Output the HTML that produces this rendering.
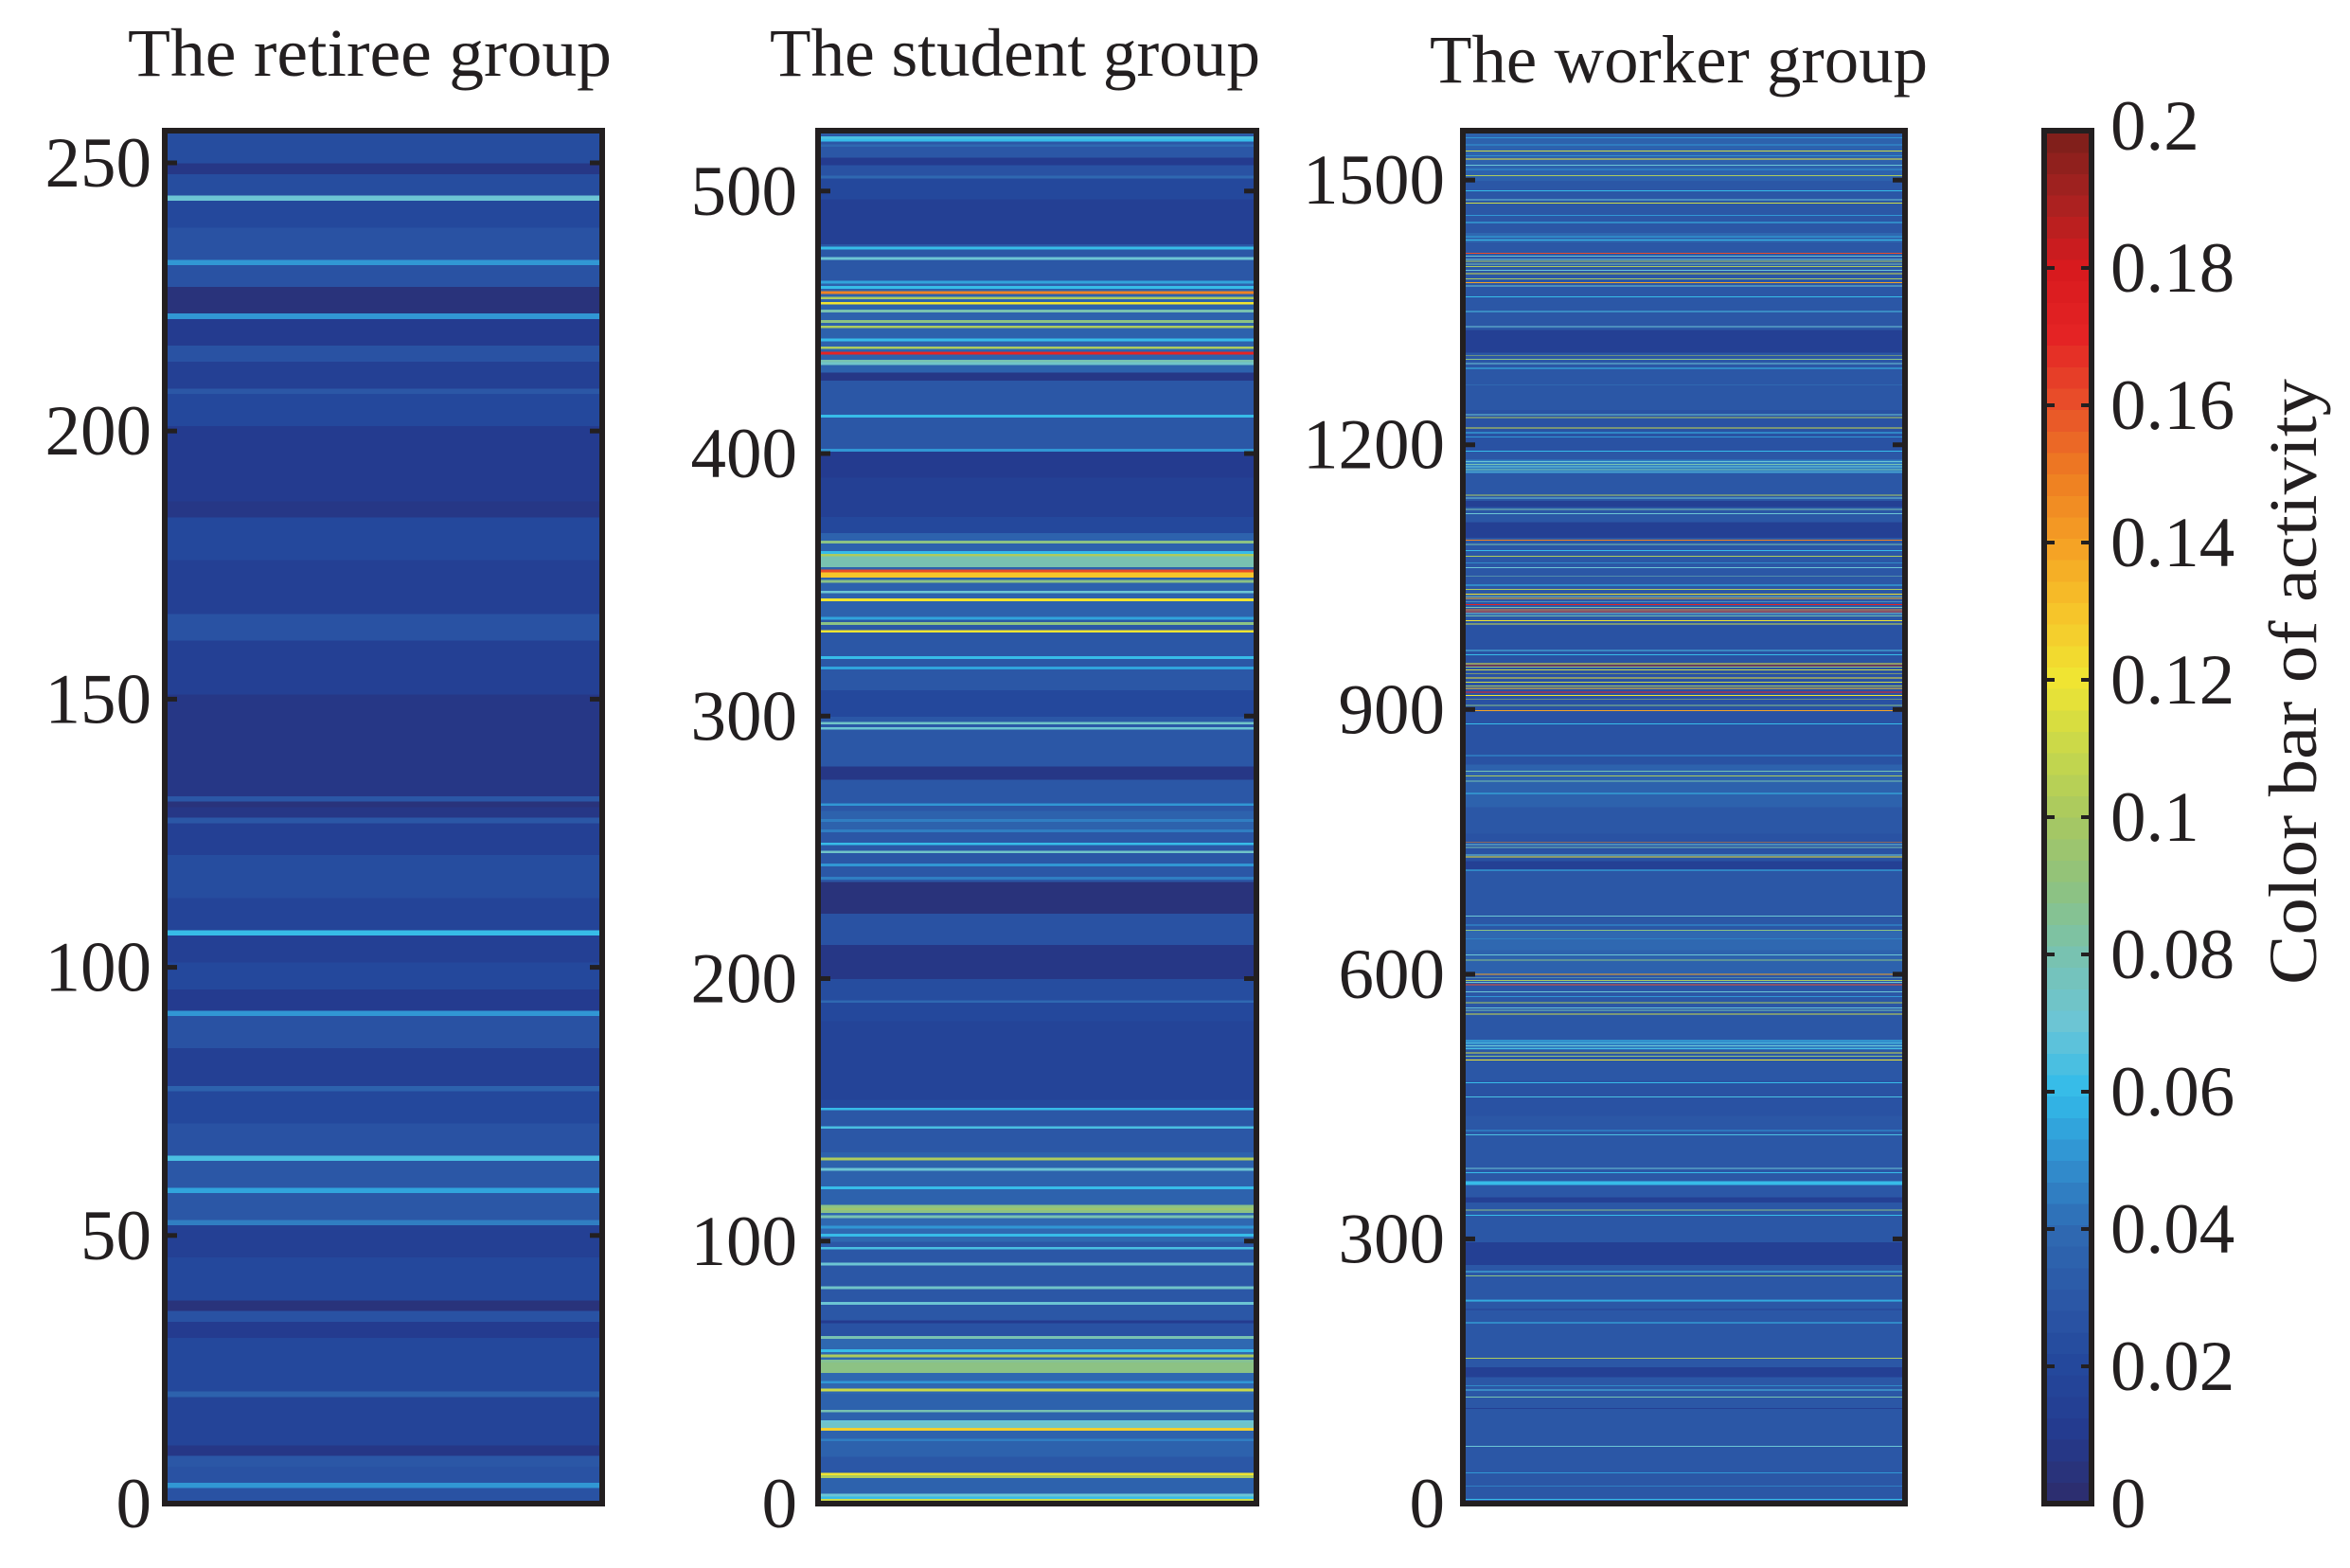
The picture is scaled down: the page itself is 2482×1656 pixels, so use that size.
<!DOCTYPE html>
<html><head><meta charset="utf-8"><style>
html,body{margin:0;padding:0;background:#fff;}
svg{display:block;}
text{font-family:"Liberation Serif","DejaVu Serif",serif;fill:#231f20;}
</style></head><body>
<svg id="chart" width="2482" height="1656" viewBox="0 0 2482 1656" xmlns="http://www.w3.org/2000/svg">
<g id="layer"></g>
</svg>
<script>
// ---- DATA ----
// Retiree group: run-length [value, rowCount] from row 0 upward (256 rows)
const retireeRuns = [[0.025,3],[0.05,1],[0.025,3],[0.03,2],[0.008,2],[0.018,9],[0.035,1],[0.02,10],[0.01,3],[0.025,2],[0.005,2],[0.02,8],[0.015,6],[0.045,1],[0.03,5],[0.055,1],[0.03,5],[0.065,1],[0.028,6],[0.02,6],[0.035,1],[0.015,7],[0.028,6],[0.05,1],[0.012,4],[0.02,5],[0.015,5],[0.062,1],[0.018,6],[0.022,8],[0.015,6],[0.03,1],[0.008,2],[0.005,1],[0.03,1],[0.008,19],[0.015,10],[0.025,5],[0.015,10],[0.02,8],[0.008,3],[0.01,14],[0.02,6],[0.03,1],[0.015,5],[0.025,3],[0.012,5],[0.05,1],[0.005,5],[0.025,4],[0.05,1],[0.025,6],[0.02,5],[0.07,1],[0.022,4],[0.008,2],[0.022,6]];
const retireeRows = 256;
const retireeTicks = [0,50,100,150,200,250];

// Student group: background segments [startRow, value], then single-row stripes [row, value]
const studentRows = 523;
const studentSegments = [[0,0.035],[12,0.03],[18,0.035],[36,0.035],[42,0.04],[64,0.025],[69,0.01],[70,0.03],[100,0.04],[114,0.035],[134,0.03],[151,0.02],[154,0.016],[184,0.02],[192,0.022],[200,0.008],[213,0.025],[225,0.005],[237,0.03],[257,0.035],[264,0.03],[276,0.008],[281,0.03],[300,0.02],[310,0.03],[338,0.035],[370,0.02],[376,0.013],[391,0.01],[402,0.03],[415,0.03],[428,0.008],[431,0.035],[466,0.03],[480,0.015],[497,0.02],[506,0.025],[510,0.01],[513,0.03]];
const studentStripes = [[1,0.11],[2,0.06],[3,0.07],[10,0.1],[11,0.12],[24,0.045],[28,0.125],[29,0.075],[30,0.075],[31,0.07],[35,0.08],[43,0.11],[46,0.05],[48,0.04],[50,0.09],[51,0.09],[52,0.09],[53,0.09],[54,0.085],[56,0.1],[58,0.06],[63,0.08],[76,0.07],[82,0.075],[91,0.07],[97,0.065],[102,0.06],[105,0.05],[109,0.08],[111,0.09],[112,0.095],[113,0.09],[120,0.06],[127,0.07],[131,0.1],[143,0.065],[150,0.06],[191,0.04],[238,0.045],[243,0.05],[248,0.075],[251,0.06],[256,0.045],[260,0.045],[266,0.05],[295,0.07],[297,0.075],[318,0.055],[322,0.06],[332,0.12],[335,0.09],[337,0.055],[344,0.12],[347,0.07],[351,0.09],[353,0.13],[354,0.13],[355,0.16],[357,0.08],[358,0.08],[359,0.08],[360,0.08],[361,0.1],[362,0.06],[366,0.09],[401,0.05],[414,0.06],[434,0.075],[435,0.08],[438,0.17],[440,0.1],[443,0.06],[448,0.1],[450,0.09],[454,0.08],[457,0.12],[459,0.1],[461,0.15],[463,0.06],[465,0.055],[474,0.07],[478,0.06],[505,0.04],[517,0.04],[519,0.06],[520,0.065],[522,0.04]];
const studentTicks = [0,100,200,300,400,500];

// Worker group
const workerRows = 1556;
const workerSegments = [[0,0.03],[108,0.015],[109,0.03],[144,0.015],[155,0.03],[220,0.015],[221,0.03],[271,0.015],[297,0.03],[342,0.015],[348,0.03],[440,0.025],[480,0.03],[515,0.045],[526,0.03],[600,0.035],[628,0.04],[650,0.03],[718,0.015],[729,0.025],[760,0.03],[790,0.035],[838,0.025],[970,0.025],[996,0.03],[1095,0.015],[1113,0.03],[1130,0.015],[1137,0.03],[1168,0.045],[1184,0.03],[1194,0.025],[1240,0.03],[1305,0.015],[1331,0.03],[1430,0.04],[1441,0.03],[1500,0.035]];
const workerStripes = [[5,0.06],[20,0.045],[35,0.05],[65,0.07],[121,0.08],[129,0.065],[134,0.06],[165,0.1],[205,0.06],[230,0.06],[231,0.05],[258,0.09],[263,0.065],[327,0.06],[333,0.09],[362,0.06],[363,0.06],[364,0.06],[365,0.06],[375,0.06],[380,0.07],[418,0.065],[423,0.05],[461,0.065],[477,0.06],[503,0.12],[507,0.09],[511,0.11],[516,0.065],[519,0.07],[522,0.065],[525,0.06],[555,0.11],[559,0.08],[562,0.07],[568,0.1],[575,0.05],[580,0.07],[588,0.16],[591,0.07],[593,0.1],[596,0.08],[600,0.14],[616,0.09],[622,0.07],[640,0.05],[650,0.09],[656,0.05],[666,0.07],[718,0.06],[733,0.12],[735,0.07],[744,0.08],[747,0.07],[750,0.15],[805,0.06],[819,0.08],[825,0.1],[830,0.08],[848,0.05],[884,0.06],[899,0.14],[905,0.09],[912,0.1],[916,0.12],[920,0.17],[924,0.13],[927,0.1],[931,0.11],[936,0.12],[941,0.11],[945,0.11],[948,0.09],[950,0.19],[952,0.12],[962,0.06],[967,0.065],[997,0.11],[1001,0.12],[1006,0.08],[1009,0.07],[1011,0.16],[1013,0.15],[1016,0.08],[1019,0.17],[1022,0.07],[1026,0.14],[1028,0.08],[1031,0.12],[1036,0.1],[1041,0.06],[1051,0.08],[1061,0.07],[1066,0.06],[1074,0.1],[1080,0.06],[1087,0.08],[1092,0.15],[1122,0.07],[1127,0.08],[1140,0.07],[1143,0.1],[1169,0.07],[1172,0.08],[1175,0.07],[1178,0.08],[1181,0.07],[1193,0.06],[1209,0.05],[1214,0.06],[1219,0.11],[1231,0.1],[1234,0.07],[1268,0.04],[1287,0.06],[1292,0.07],[1297,0.09],[1301,0.1],[1334,0.07],[1351,0.065],[1368,0.06],[1380,0.07],[1384,0.14],[1388,0.1],[1394,0.11],[1398,0.07],[1402,0.1],[1405,0.08],[1408,0.1],[1410,0.07],[1414,0.07],[1417,0.16],[1432,0.06],[1436,0.055],[1452,0.06],[1460,0.05],[1474,0.11],[1478,0.07],[1488,0.06],[1505,0.1],[1512,0.05],[1517,0.07],[1524,0.12],[1528,0.06],[1533,0.11],[1540,0.05],[1548,0.05]];
const workerTicks = [0,300,600,900,1200,1500];

// Colorbar
const cbarTicks = [0,0.02,0.04,0.06,0.08,0.1,0.12,0.14,0.16,0.18,0.2];
const cbarLabels = ["0","0.02","0.04","0.06","0.08","0.1","0.12","0.14","0.16","0.18","0.2"];
const cmapStops = [0,0.01,0.02,0.03,0.04,0.05,0.06,0.07,0.08,0.09,0.1,0.11,0.12,0.13,0.14,0.15,0.16,0.17,0.18,0.19,0.2];
const cmapColors = ["#2d2c6a","#243a8e","#24489c","#2b57a6","#2f6ab2","#3190d0","#32bbea","#6cc5d5","#78c2b0","#8ec27f","#a8c860","#c8d84a","#f0e532","#f6c42a","#f5a024","#ee7d22","#e8502a","#e42324","#d81a1e","#a82220","#7a1e1a"];

// ---- RENDERING ----
const NS = "http://www.w3.org/2000/svg";
const layer = document.getElementById("layer");
const TOP = 138, BOT = 1588;
const VMAX = 0.2, NLEV = 64;

function hex2rgb(h){return [parseInt(h.substr(1,2),16),parseInt(h.substr(3,2),16),parseInt(h.substr(5,2),16)];}
function colorOf(v){
  let lev = Math.min(NLEV-1, Math.max(0, Math.floor(v/VMAX*NLEV)));
  let q = (lev+0.5)/NLEV*VMAX;
  let i = 0;
  while (i < cmapStops.length-2 && q > cmapStops[i+1]) i++;
  const t = (q-cmapStops[i])/(cmapStops[i+1]-cmapStops[i]);
  const a = hex2rgb(cmapColors[i]), b = hex2rgb(cmapColors[i+1]);
  return "rgb("+a.map((c,k)=>Math.round(c+(b[k]-c)*t)).join(",")+")";
}
function mk(tag, attrs, parent){
  const e = document.createElementNS(NS, tag);
  for (const k in attrs) e.setAttribute(k, attrs[k]);
  (parent||layer).appendChild(e);
  return e;
}
function rowsFromRuns(runs){const out=[];runs.forEach(r=>{for(let i=0;i<r[1];i++)out.push(r[0]);});return out;}
function rowsFromSegs(n, segs, stripes){
  const out = new Array(n);
  for (let s=0;s<segs.length;s++){
    const end = s+1<segs.length?segs[s+1][0]:n;
    for (let r=segs[s][0]; r<end && r<n; r++) out[r]=segs[s][1];
  }
  stripes.forEach(st=>{ if (st[0]>=0 && st[0]<n) out[st[0]]=st[1]; });
  return out;
}

function drawPanel(name, x0, x1, nRows, vals, ticks, labelRight, title, tx0, tx1, tBase){
  const g = mk("g", {});
  
  
  const yScale = r => BOT - r/nRows*(BOT-TOP);
  const hm = mk("g", {"shape-rendering":"crispEdges"}, g);
  
  
  vals.forEach((v,i)=>{
    const ya = yScale(i+1), yb = yScale(i);
    const r = mk("rect", {x:x0, y:ya, width:x1-x0, height:(yb-ya)+0.6, fill:colorOf(v)}, hm);
    
    
  });
  const frame = mk("rect", {x:x0, y:TOP, width:x1-x0, height:BOT-TOP, fill:"none", stroke:"#231f20", "stroke-width":6}, g);
  
  
  ticks.forEach(t=>{
    const y = BOT - (t)/nRows*(BOT-TOP);
    const tl = mk("line", {x1:x0, x2:x0+13, y1:y, y2:y, stroke:"#231f20", "stroke-width":5}, g);
    
    
    const tr = mk("line", {x1:x1-13, x2:x1, y1:y, y2:y, stroke:"#231f20", "stroke-width":5}, g);
    
    
    const lab = mk("text", {x:labelRight, y:y+25, "text-anchor":"end", "font-size":75}, g);
    lab.textContent = String(t);
    
    
  });
  const tt = mk("text", {x:tx0, y:tBase, "font-size":72, textLength:tx1-tx0, lengthAdjust:"spacingAndGlyphs"}, g);
  tt.textContent = title;
  
  
}

drawPanel("retiree", 174, 636, retireeRows, rowsFromRuns(retireeRuns), retireeTicks, 160, "The retiree group", 135, 646, 80);
drawPanel("student", 864, 1327, studentRows, rowsFromSegs(studentRows, studentSegments, studentStripes), studentTicks, 842, "The student group", 813, 1331, 80);
drawPanel("worker", 1545, 2012, workerRows, rowsFromSegs(workerRows, workerSegments, workerStripes), workerTicks, 1526, "The worker group", 1510, 2036, 87);

// colorbar
(function(){
  const cx0 = 2159, cx1 = 2209;
  const g = mk("g", {});
  
  
  const cs = v => BOT - v/VMAX*(BOT-TOP);
  const sg = mk("g", {"shape-rendering":"crispEdges"}, g);
  for (let l=0;l<NLEV;l++){
    const v0 = l/NLEV*VMAX, v1 = (l+1)/NLEV*VMAX;
    const r = mk("rect", {x:cx0, y:cs(v1), width:cx1-cx0, height:cs(v0)-cs(v1)+0.6, fill:colorOf((v0+v1)/2)}, sg);
    
    
  }
  const fr = mk("rect", {x:cx0, y:TOP, width:cx1-cx0, height:BOT-TOP, fill:"none", stroke:"#231f20", "stroke-width":6}, g);
  
  
  cbarTicks.forEach((t,i)=>{
    const y = cs(t);
    if (i>0 && i<cbarTicks.length-1){
      const a = mk("line", {x1:cx0, x2:cx0+11, y1:y, y2:y, stroke:"#231f20", "stroke-width":4}, g);
      
      
      const b = mk("line", {x1:cx1-11, x2:cx1, y1:y, y2:y, stroke:"#231f20", "stroke-width":4}, g);
      
      
    }
    const lab = mk("text", {x:2229, y:y+(i===cbarTicks.length-1?20:25), "font-size":75}, g);
    lab.textContent = cbarLabels[i];
    
    
  });
  const title = mk("text", {x:0, y:0, "font-size":72, "text-anchor":"middle", textLength:640, lengthAdjust:"spacingAndGlyphs", transform:"translate(2446,720) rotate(-90)"}, g);
  title.textContent = "Color bar of activity";
  
  
})();
</script>
</body></html>
